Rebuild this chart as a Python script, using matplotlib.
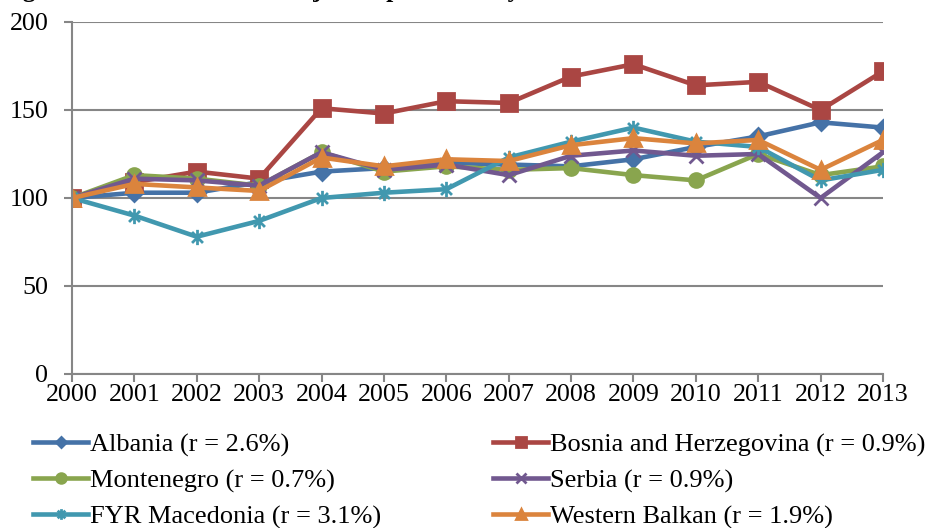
import matplotlib
matplotlib.use("Agg")
import matplotlib.pyplot as plt
from matplotlib.path import Path

plt.rcParams["font.family"] = ["Liberation Serif", "DejaVu Serif"]

years = list(range(2000, 2014))

albania = [100, 103, 103, 109, 115, 117, 120, 119, 118, 122, 129, 135, 143, 140]
bosnia = [100, 109, 115, 111, 151, 148, 155, 154, 169, 176, 164, 166, 150, 172]
montenegro = [100, 113, 111, 107, 126, 115, 118, 116, 117, 113, 110, 125, 113, 118]
serbia = [100, 111, 110, 107, 126, 116, 119, 113, 124, 127, 124, 125, 100, 126]
macedonia = [100, 90, 78, 87, 100, 103, 105, 123, 132, 140, 132, 129, 110, 116]
western_balkan = [100, 108, 106, 104, 123, 118, 122, 121, 130, 134, 131, 133, 116, 133]

labels = [
    "Albania (r = 2.6%)",
    "Bosnia and Herzegovina (r = 0.9%)",
    "Montenegro (r = 0.7%)",
    "Serbia (r = 0.9%)",
    "FYR Macedonia (r = 3.1%)",
    "Western Balkan (r = 1.9%)",
]
series = [albania, bosnia, montenegro, serbia, macedonia, western_balkan]
colors = ["#4572A7", "#AA4643", "#89A54E", "#71588F", "#4198AF", "#DB843D"]

# excel style star: an x with a vertical bar through it
star = Path([(-1, -1), (1, 1), (-1, 1), (1, -1), (0, -1.4), (0, 1.4)],
            [Path.MOVETO, Path.LINETO, Path.MOVETO, Path.LINETO,
             Path.MOVETO, Path.LINETO])
markers = ["D", "s", "o", "x", star, "^"]
msizes = [8, 11, 10, 10, 11, 11]

fig = plt.figure(figsize=(9.3, 5.28), dpi=100)
ax = fig.add_axes([72 / 930, 1 - 374 / 528, (883 - 72) / 930, (374 - 22) / 528])

handles = []
for vals, lab, c, m, ms in zip(series, labels, colors, markers, msizes):
    h, = ax.plot(years, vals, color=c, lw=3.3, marker=m, ms=ms, mew=2,
                 mfc=c, mec=c, label=lab, solid_joinstyle="round")
    handles.append(h)

ax.set_xlim(2000, 2013)
ax.set_ylim(0, 200)
ax.set_yticks([0, 50, 100, 150, 200])
ax.set_xticks(years)
ax.yaxis.grid(True, color="#868686", lw=1.5)
ax.set_axisbelow(True)
for s in ["top", "right"]:
    ax.spines[s].set_visible(False)
for s in ["left", "bottom"]:
    ax.spines[s].set_color("#868686")
    ax.spines[s].set_linewidth(1.5)
ax.tick_params(axis="both", colors="#868686", labelcolor="black", width=1.5,
               length=6, labelsize=18.7)
ax.tick_params(axis="y", pad=11)
ax.tick_params(axis="x", pad=1)

leg_kw = dict(loc="upper left", frameon=False, fontsize=19, handlelength=2.1,
              handletextpad=0.05, labelspacing=0.46, markerscale=0.7,
              borderaxespad=0.0, borderpad=0.0)
leg1 = fig.legend(handles[0::2], labels[0::2],
                  bbox_to_anchor=(33 / 930, 1 - 433 / 528), **leg_kw)
leg2 = fig.legend(handles[1::2], labels[1::2],
                  bbox_to_anchor=(493 / 930, 1 - 433 / 528), **leg_kw)

# title of the figure, cut off by the top edge in the source
fig.text(0, 1 + 3.5 / 528, "Figure 4: Evolution of the adjusted productivity",
         fontsize=18.4, fontweight="bold", va="baseline", ha="left")

fig.savefig("out.png", dpi=100)
